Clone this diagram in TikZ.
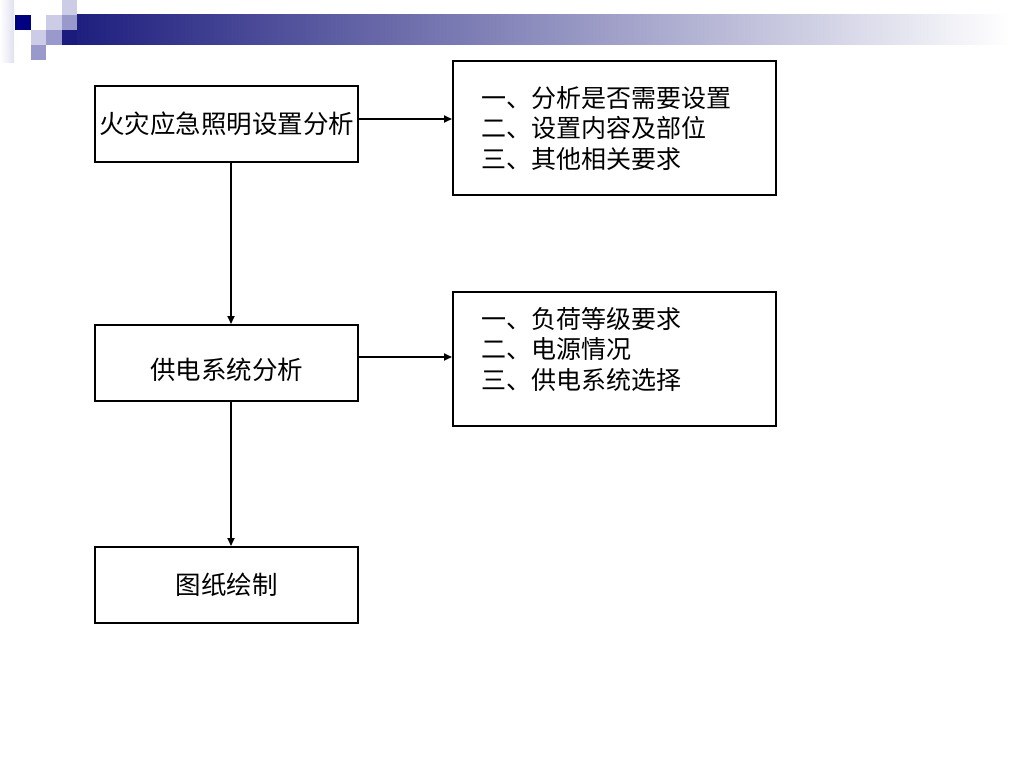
\documentclass[tikz,border=0pt]{standalone}
\usepackage{fontspec}
\newfontfamily\cjk{Noto Sans CJK SC}
\usetikzlibrary{arrows.meta,positioning}
\definecolor{bandnavy}{RGB}{27,27,125}
\definecolor{bandgray}{RGB}{176,176,192}
\definecolor{sqnavy}{RGB}{0,0,128}
\definecolor{sqmid}{RGB}{153,153,204}
\definecolor{sqlight}{RGB}{204,204,230}

\begin{document}
\begin{tikzpicture}[x=1pt,y=-1pt,
    stagebox/.style={draw=black, line width=2pt, minimum width=263pt, minimum height=76pt, inner sep=0pt, font=\cjk\fontsize{25.5}{30}\selectfont},
    listbox/.style={draw=black, line width=2pt, minimum width=323pt, minimum height=134pt},
    listtext/.style={anchor=north west, align=left, inner sep=0pt, font=\cjk\fontsize{25}{30.5}\selectfont},
    flow/.style={line width=1.8pt, -{Triangle[length=8pt,width=7pt]}}]
  \useasboundingbox (0,0) rectangle (1024,768);
  % title bar
  \shade[left color=white, right color=sqlight!60] (0,0) rectangle (14,62);
  \shade[left color=bandnavy, middle color=bandgray, right color=white] (62,15) rectangle (1010,45);
  \foreach \x/\y/\c in {61.5/0/sqlight, 15/15/sqnavy, 46/15/sqlight, 61.5/15/sqmid,
                        30.5/30/sqlight, 46/30/sqmid, 61.5/30/bandnavy, 30.5/45/sqmid}
    \fill[\c] (\x,\y) rectangle ++(15.5,15);
  % boxes
  \node[stagebox] (fire) at (226.5,124) {火灾应急照明设置分析};
  \node[listbox] (firelist) at (614.5,128) {};
  \node[listtext] (firetext) at (481,86) {一、分析是否需要设置\\二、设置内容及部位\\三、其他相关要求};
  \node[stagebox, text height=36pt, text depth=3pt] (supply) at (226.5,363) {供电系统分析};
  \node[listbox] (supplylist) at (614.5,358.5) {};
  \node[listtext] (supplytext) at (481,307) {一、负荷等级要求\\二、电源情况\\三、供电系统选择};
  \node[stagebox] (drawing) at (226.5,585) {图纸绘制};
  % arrows
  \draw[flow] ([yshift=5pt]fire.east) -- ([yshift=5pt]fire.east -| firelist.west);
  \draw[flow] ([xshift=4.5pt]fire.south) -- ([xshift=4.5pt]fire.south |- supply.north);
  \draw[flow] ([yshift=6pt]supply.east) -- ([yshift=6pt]supply.east -| supplylist.west);
  \draw[flow] ([xshift=4.5pt]supply.south) -- ([xshift=4.5pt]supply.south |- drawing.north);
\end{tikzpicture}
\end{document}
